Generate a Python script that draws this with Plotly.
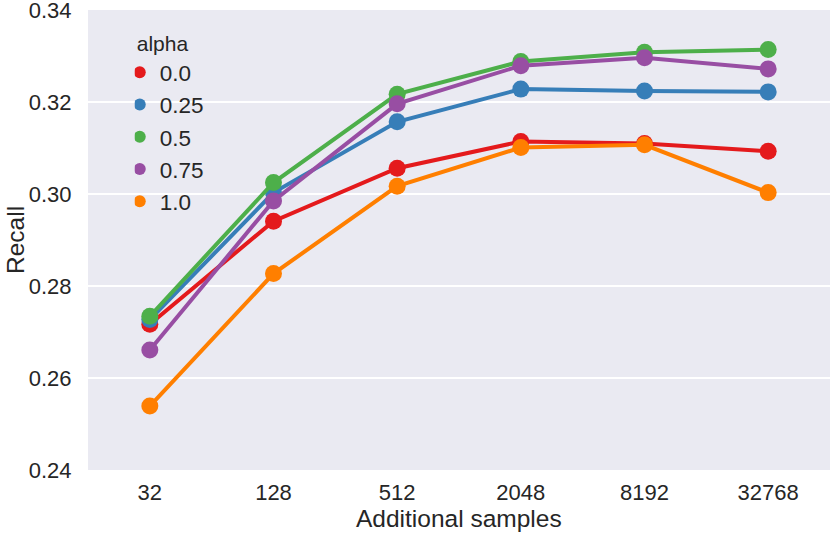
import plotly.graph_objects as go

samples = ["32", "128", "512", "2048", "8192", "32768"]
alphas = ["0.0", "0.25", "0.5", "0.75", "1.0"]
recall_a00 = [0.2717, 0.2941, 0.3056, 0.3114, 0.3110, 0.3093]
recall_a025 = [0.2727, 0.3003, 0.3157, 0.3228, 0.3224, 0.3222]
recall_a05 = [0.2734, 0.3025, 0.3217, 0.3288, 0.3308, 0.3314]
recall_a075 = [0.2661, 0.2985, 0.3196, 0.3279, 0.3296, 0.3272]
recall_a10 = [0.2539, 0.2827, 0.3017, 0.3101, 0.3107, 0.3003]
series = [recall_a00, recall_a025, recall_a05, recall_a075, recall_a10]
colors = ["#e41a1c", "#377eb8", "#4daf4a", "#984ea3", "#ff7f00"]
y_ticks = [0.24, 0.26, 0.28, 0.30, 0.32, 0.34]

FONT = "Liberation Sans, Arial, sans-serif"
fig = go.Figure()
for name, vals, c in zip(alphas, series, colors):
    fig.add_trace(go.Scatter(
        x=samples, y=vals, mode="lines+markers", name=name,
        line=dict(color=c, width=4),
        marker=dict(color=c, size=17),
        showlegend=False,
    ))
for name, c in zip(alphas, colors):
    fig.add_trace(go.Scatter(
        x=[None], y=[None], mode="markers", name=name,
        marker=dict(color=c, size=17),
    ))

fig.update_layout(
    width=830, height=534,
    margin=dict(l=88, r=0, t=10, b=64),
    plot_bgcolor="#eaeaf2", paper_bgcolor="white",
    font=dict(family=FONT, size=22, color="#262626"),
    legend=dict(
        x=0.063, y=0.97, xanchor="left", yanchor="top",
        bgcolor="rgba(0,0,0,0)",
        title=dict(text="alpha", font=dict(size=21)),
        font=dict(size=22.5),
        itemsizing="constant",
        indentation=-15,
        tracegroupgap=0,
    ),
    xaxis=dict(
        type="category", range=[-0.5, 5.5], showgrid=False, zeroline=False,
        showline=False, ticks="outside", ticklen=3, tickcolor="rgba(0,0,0,0)",
        tickfont=dict(size=22), automargin=False,
    ),
    yaxis=dict(
        range=[0.24, 0.34], tickvals=y_ticks, tickformat=".2f",
        showgrid=True, gridcolor="white", gridwidth=1.5, zeroline=False,
        showline=False, ticks="outside", ticklen=11, tickcolor="rgba(0,0,0,0)",
        tickfont=dict(size=22), automargin=False, ticklabeloverflow="allow",
    ),
    annotations=[
        dict(text="Additional samples", xref="paper", yref="paper", x=0.5, y=0,
             yshift=-48, xanchor="center", yanchor="middle", showarrow=False,
             font=dict(size=24.5)),
        dict(text="Recall", xref="paper", yref="paper", x=0, y=0.5,
             xshift=-73, xanchor="center", yanchor="middle", showarrow=False,
             textangle=-90, font=dict(size=24.5)),
    ],
)
fig.write_html(
    "out.html",
    config={"displayModeBar": False},
    post_script="document.body.style.margin='0';document.body.style.overflow='hidden';",
)
